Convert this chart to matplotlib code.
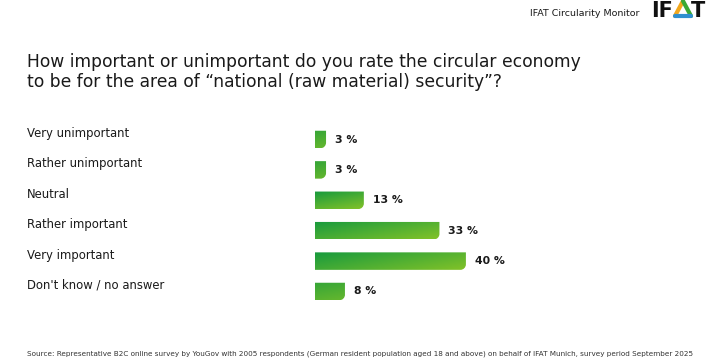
import numpy as np
import matplotlib
matplotlib.use("Agg")
import matplotlib.pyplot as plt
import matplotlib.transforms as mtransforms
from matplotlib.path import Path
from matplotlib.patches import PathPatch
from matplotlib.lines import Line2D

# --- data ---
categories = ["Very unimportant", "Rather unimportant", "Neutral",
              "Rather important", "Very important", "Don't know / no answer"]
values = [3, 3, 13, 33, 40, 8]
value_labels = ["3 %", "3 %", "13 %", "33 %", "40 %", "8 %"]

title = ("How important or unimportant do you rate the circular economy\n"
         "to be for the area of \u201cnational (raw material) security\u201d?")
source = ("Source: Representative B2C online survey by YouGov with 2005 respondents "
          "(German resident population aged 18 and above) on behalf of IFAT Munich, "
          "survey period September 2025")

plt.rcParams['font.family'] = ['DejaVu Sans']
W, H = 728, 364
fig = plt.figure(figsize=(W / 100, H / 100), dpi=100)

# axes placed in pixel terms
x0_px, px_per_pct = 314.7, 3.78
xmax = 50
row0_px, row_px = 139.5, 30.4
top_px = row0_px - row_px / 2
ax_h_px = row_px * len(categories)
ax = fig.add_axes([x0_px / W, 1 - (top_px + ax_h_px) / H,
                   xmax * px_per_pct / W, ax_h_px / H])
ax.set_xlim(0, xmax)
ax.set_ylim(len(categories) - 0.5, -0.5)
ax.axis('off')

bar_h = 17.5 / row_px
r_px = 5.5
rx = r_px / px_per_pct
ry = r_px / row_px

c_dark = np.array([0x0c, 0x96, 0x40]) / 255
c_light = np.array([0x82, 0xc2, 0x28]) / 255

for i, v in enumerate(values):
    yt, yb = i - bar_h / 2, i + bar_h / 2
    # rounded bottom-right corner only (y axis is inverted)
    k = 0.55
    verts = [(0, yt), (v, yt), (v, yb - ry),
             (v, yb - ry + k * ry), (v - rx + k * rx, yb), (v - rx, yb),
             (0, yb), (0, yt)]
    codes = [Path.MOVETO, Path.LINETO, Path.LINETO,
             Path.CURVE4, Path.CURVE4, Path.CURVE4,
             Path.LINETO, Path.CLOSEPOLY]
    patch = PathPatch(Path(verts, codes), facecolor='none', edgecolor='none')
    ax.add_patch(patch)
    # diagonal gradient, dark green top-left to yellow-green bottom-right
    wpx = max(v * px_per_pct, 1)
    nx, ny = int(wpx) + 2, 20
    gx, gy = np.meshgrid(np.linspace(0, wpx, nx), np.linspace(0, 17.5, ny))
    t = (gx * 0.3 + gy * 1.6) / (wpx * 0.3 + 17.5 * 1.6)
    t = 0.1 + 0.9 * t if v > 10 else 0.35 + 0.4 * t
    img = c_dark[None, None, :] * (1 - t[..., None]) + c_light[None, None, :] * t[..., None]
    im = ax.imshow(img, extent=(0, v, yb, yt), aspect='auto', origin='upper',
                   interpolation='bilinear', zorder=2)
    im.set_clip_path(patch)
    ax.text(v + 9 / px_per_pct, i, value_labels[i], va='center', ha='left',
            fontsize=7.8, fontweight='bold', color='#1a1a1a')

# category labels, a little above the bar centres
trans = mtransforms.blended_transform_factory(fig.transFigure, ax.transData)
trans = mtransforms.offset_copy(trans, fig=fig, y=6, units='dots')
for i, c in enumerate(categories):
    ax.text(27 / W, i, c, transform=trans, ha='left', va='center',
            fontsize=8.4, color='#1a1a1a')

fig.text(27 / W, 1 - 72 / H, title, ha='left', va='center', fontsize=12.35,
         color='#1a1a1a', linespacing=1.2)
fig.text(27 / W, 1 - 354 / H, source, ha='left', va='center', fontsize=5.25,
         color='#333333')

# header
fig.text(640 / W, 1 - 14 / H, "IFAT Circularity Monitor", ha='right', va='center',
         fontsize=6.8, color='#1a1a1a')
fig.text(651 / W, 1 - 17 / H, "IF", ha='left', va='baseline', fontsize=15,
         fontweight='bold', color='#111111')
fig.text(691 / W, 1 - 17 / H, "T", ha='left', va='baseline', fontsize=15,
         fontweight='bold', color='#111111')
tri = [(675, 16), (683, 1), (691, 16)]
cols = ['#f2a81d', '#3aa935', '#2f8fd0']
for j in range(3):
    (xa, ya), (xb, yb2) = tri[j], tri[(j + 1) % 3]
    fig.add_artist(Line2D([xa / W, xb / W], [1 - ya / H, 1 - yb2 / H],
                          transform=fig.transFigure, color=cols[j],
                          lw=3.0, solid_capstyle='round'))

fig.savefig("out.png", dpi=100)
